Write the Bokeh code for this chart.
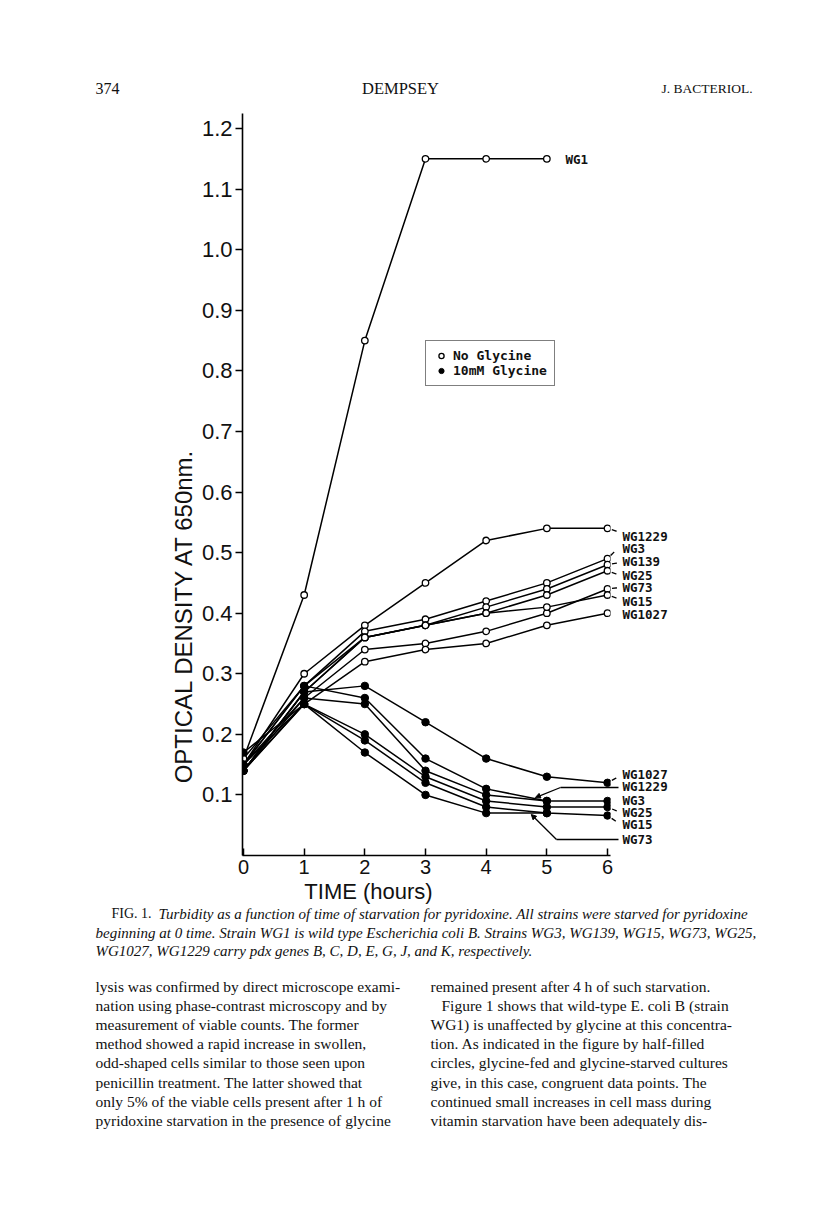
import math
from bokeh.plotting import figure
from bokeh.models import (Range1d, FixedTicker, PrintfTickFormatter, Legend,
                          LegendItem, Arrow, NormalHead)
from bokeh.core.properties import value
from bokeh.embed import file_html
from bokeh.resources import INLINE

# ---------------- data ----------------
hours = [0, 1, 2, 3, 4, 5, 6]
x_ticks = [0, 1, 2, 3, 4, 5, 6]
y_ticks = [0.1, 0.2, 0.3, 0.4, 0.5, 0.6, 0.7, 0.8, 0.9, 1.0, 1.1, 1.2]

wg1_label = "WG1"
wg1_values = [0.16, 0.43, 0.85, 1.15, 1.15, 1.15]

no_glycine_names = ["WG1229", "WG3", "WG139", "WG25", "WG73", "WG15", "WG1027"]
no_glycine_values = [
    [0.15, 0.30, 0.38, 0.45, 0.52, 0.54, 0.54],
    [0.16, 0.28, 0.37, 0.39, 0.42, 0.45, 0.49],
    [0.15, 0.28, 0.36, 0.38, 0.41, 0.44, 0.48],
    [0.14, 0.27, 0.36, 0.38, 0.40, 0.43, 0.47],
    [0.15, 0.26, 0.34, 0.35, 0.37, 0.40, 0.44],
    [0.14, 0.27, 0.36, 0.38, 0.40, 0.41, 0.43],
    [0.14, 0.25, 0.32, 0.34, 0.35, 0.38, 0.40],
]

glycine_names = ["WG1027", "WG1229", "WG3", "WG25", "WG15", "WG73"]
glycine_values = [
    [0.14, 0.27, 0.28, 0.22, 0.16, 0.13, 0.12],
    [0.15, 0.28, 0.26, 0.16, 0.11, 0.09],
    [0.14, 0.26, 0.25, 0.14, 0.10, 0.09, 0.09],
    [0.17, 0.25, 0.20, 0.13, 0.09, 0.08, 0.08],
    [0.14, 0.25, 0.19, 0.12, 0.08, 0.07, 0.066],
    [0.15, 0.25, 0.17, 0.10, 0.07, 0.07],
]

legend_labels = ["No Glycine", "10mM Glycine"]
x_title = "TIME (hours)"
y_title = "OPTICAL DENSITY AT 650nm."

header_page = "374"
header_author = "DEMPSEY"
header_journal = "J. BACTERIOL."

caption_lead = "FIG. 1."
caption_lines = [
    "Turbidity as a function of time of starvation for pyridoxine. All strains were starved for pyridoxine",
    "beginning at 0 time. Strain WG1 is wild type Escherichia coli B. Strains WG3, WG139, WG15, WG73, WG25,",
    "WG1027, WG1229 carry pdx genes B, C, D, E, G, J, and K, respectively.",
]
left_column = [
    "lysis was confirmed by direct microscope exami-",
    "nation using phase-contrast microscopy and by",
    "measurement of viable counts. The former",
    "method showed a rapid increase in swollen,",
    "odd-shaped cells similar to those seen upon",
    "penicillin treatment. The latter showed that",
    "only 5% of the viable cells present after 1 h of",
    "pyridoxine starvation in the presence of glycine",
]
right_column = [
    "remained present after 4 h of such starvation.",
    "Figure 1 shows that wild-type E. coli B (strain",
    "WG1) is unaffected by glycine at this concentra-",
    "tion. As indicated in the figure by half-filled",
    "circles, glycine-fed and glycine-starved cultures",
    "give, in this case, congruent data points. The",
    "continued small increases in cell mass during",
    "vitamin starvation have been adequately dis-",
]

# ---------------- layout (page pixels) ----------------
OFF = 0                   # canvas origin on the page
FRAME_L, FRAME_R, FRAME_T, FRAME_B = 242, 610, 113, 855
X0, XS = 243.0, 60.67     # page x of hour 0, px per hour
Y0, YS = 855.0, 605.8     # page y of OD 0, px per OD unit
W, H = 800, 1200


def X(px):
    return (px - X0) / XS


def Y(py):
    return (Y0 - py) / YS


def to_page(x, y):
    return X0 + x * XS, Y0 - y * YS


p = figure(width=W, height=H, output_backend="svg", toolbar_location=None,
           x_range=Range1d(X(FRAME_L), X(FRAME_R)),
           y_range=Range1d(Y(FRAME_B), Y(FRAME_T)),
           min_border_left=FRAME_L - OFF, min_border_right=W - (FRAME_R - OFF),
           min_border_top=FRAME_T - OFF, min_border_bottom=H - (FRAME_B - OFF),
           outline_line_color=None, background_fill_color="white",
           border_fill_color="white")
p.grid.visible = False

for ax in (p.xaxis, p.yaxis):
    ax.axis_line_width = 1.6
    ax.axis_line_color = "black"
    ax.major_tick_line_width = 1.5
    ax.major_tick_line_color = "black"
    ax.minor_tick_line_color = None
    ax.major_label_text_font = "Liberation Sans"
    ax.major_label_text_color = "#111111"

p.xaxis.ticker = FixedTicker(ticks=x_ticks)
p.xaxis.major_tick_in = 7
p.xaxis.major_tick_out = 0
p.xaxis.major_label_standoff = 4
p.xaxis.major_label_text_font_size = "20px"

p.yaxis.ticker = FixedTicker(ticks=y_ticks)
p.yaxis.formatter = PrintfTickFormatter(format="%.1f")
p.yaxis.major_tick_in = 0
p.yaxis.major_tick_out = 7
p.yaxis.major_label_standoff = 3
p.yaxis.major_label_text_font_size = "22px"

LW = 1.5
# lines
p.line(hours[:len(wg1_values)], wg1_values, line_color="black", line_width=LW)
for vals in no_glycine_values:
    p.line(hours[:len(vals)], vals, line_color="black", line_width=LW)
for vals in glycine_values:
    p.line(hours[:len(vals)], vals, line_color="black", line_width=LW)

# markers
open_renderers = []
for vals in [wg1_values] + no_glycine_values:
    r = p.scatter(hours[:len(vals)], vals, marker="circle", size=6.5,
                  fill_color="white", line_color="black", line_width=1.3)
    open_renderers.append(r)
fill_renderers = []
for vals in glycine_values:
    r = p.scatter(hours[:len(vals)], vals, marker="circle", size=7.5,
                  fill_color="black", line_color="black", line_width=1)
    fill_renderers.append(r)


def page_text(px, py, txt, size, font, style="normal", align="left",
              baseline="middle", angle=0.0, color="#111111"):
    p.text(x=[X(px)], y=[Y(py)], text=[txt], text_font=value(font),
           text_font_size=value(size), text_font_style=value(style),
           text_align=value(align), text_baseline=value(baseline),
           angle=angle, text_color=color, level="overlay")


def arrow_to_point(tail_px, tail_py, x, y, gap=5.0):
    hx, hy = to_page(x, y)
    dx, dy = tail_px - hx, tail_py - hy
    d = math.hypot(dx, dy) or 1.0
    hx += dx / d * gap
    hy += dy / d * gap
    p.add_layout(Arrow(end=NormalHead(size=5, fill_color="black",
                                      line_color="black", line_width=1),
                       x_start=X(tail_px), y_start=Y(tail_py),
                       x_end=X(hx), y_end=Y(hy),
                       line_color="black", line_width=1.3, level="overlay"))


LABEL_FONT = "DejaVu Sans Mono"
LABEL_SIZE = "12.5px"

# WG1 label
page_text(565, 159, wg1_label, LABEL_SIZE, LABEL_FONT, "bold")

# no glycine labels: (label page y, arrow tail page y or None)
open_label_y = [536, 548, 561, 575, 587, 601, 614]
open_tail_y = [532, 545, 562, 575, 587, 599, None]
for name, vals, ly, ty in zip(no_glycine_names, no_glycine_values,
                              open_label_y, open_tail_y):
    page_text(622, ly, name, LABEL_SIZE, LABEL_FONT, "bold")
    if ty is not None:
        arrow_to_point(620, ty, hours[len(vals) - 1], vals[-1], gap=4.5)

# glycine labels
gly_label_y = [774, 786, 800, 812, 824, 839]
gly_tail_y = [775, None, None, 812, 824, None]
for name, vals, ly, ty in zip(glycine_names, glycine_values,
                              gly_label_y, gly_tail_y):
    page_text(622, ly, name, LABEL_SIZE, LABEL_FONT, "bold")
    if ty is not None:
        arrow_to_point(620, ty, hours[len(vals) - 1], vals[-1], gap=5)

# leader lines for series that end at 5 h (WG1229, WG73 with glycine)
for name, ly, elbow_px, t_at in (("WG1229", 787, 560, 4.78),
                                 ("WG73", 839, 556, 4.72)):
    vals = glycine_values[glycine_names.index(name)]
    v_at = vals[4] + (vals[5] - vals[4]) * (t_at - 4)
    p.line([X(618), X(elbow_px)], [Y(ly), Y(ly)], line_color="black",
           line_width=1.3, level="overlay")
    arrow_to_point(elbow_px, ly, t_at, v_at, gap=2)

# legend
legend = Legend(items=[LegendItem(label=legend_labels[0], renderers=[open_renderers[1]]),
                       LegendItem(label=legend_labels[1], renderers=[fill_renderers[0]])],
                location=(183, 469), orientation="vertical",
                label_text_font=LABEL_FONT, label_text_font_style="bold",
                label_text_font_size="13px", label_text_color="#111111",
                label_standoff=4, glyph_width=16, glyph_height=13,
                label_height=13, spacing=0, padding=7, margin=0,
                border_line_color="black", border_line_width=1.6,
                background_fill_color="white", background_fill_alpha=1.0)
p.add_layout(legend)

# axis titles
page_text(368, 891, x_title, "22px", "Liberation Sans", align="center")
page_text(183, 615, y_title, "24px", "Liberation Sans", align="center",
          angle=math.pi / 2)

# page header
SERIF = "Liberation Serif"
page_text(95, 88, header_page, "16px", SERIF)
page_text(400, 88, header_author, "16.5px", SERIF, align="center")
page_text(752, 88, header_journal, "13.5px", SERIF, align="right")

# caption
cap_y = [913, 932, 950]
page_text(111, cap_y[0], caption_lead, "14px", SERIF)
page_text(158, cap_y[0], caption_lines[0], "15px", SERIF, style="italic")
page_text(95, cap_y[1], caption_lines[1], "15px", SERIF, style="italic")
page_text(95, cap_y[2], caption_lines[2], "15px", SERIF, style="italic")

# body text, two columns
for i, line in enumerate(left_column):
    page_text(95, 986 + i * 19.1, line, "15.5px", SERIF)
for i, line in enumerate(right_column):
    indent = 11 if i == 1 else 0
    page_text(430 + indent, 986 + i * 19.1, line, "15.5px", SERIF)

open("out.html", "w").write(file_html(p, INLINE))
